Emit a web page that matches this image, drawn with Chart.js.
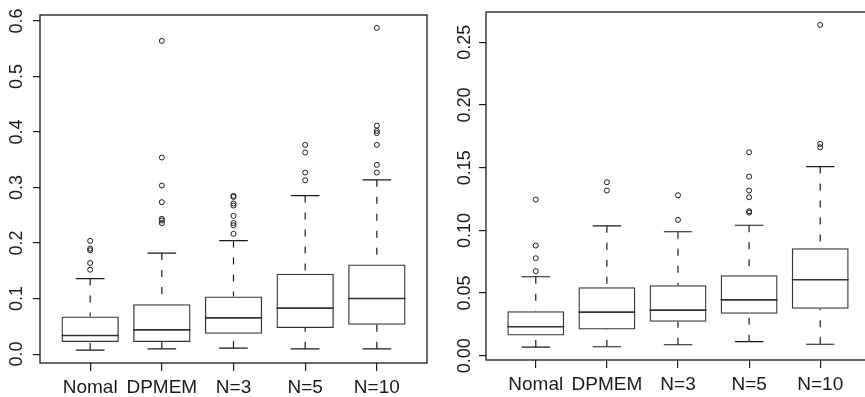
<!DOCTYPE html>
<html>
<head>
<meta charset="utf-8">
<script src="https://cdn.jsdelivr.net/npm/chart.js@4/dist/chart.umd.min.js"></script>
<style>
  html, body { margin: 0; padding: 0; background: #fff; overflow: hidden; }
  body { width: 865px; height: 397px; position: relative; }
  .panel { position: absolute; top: 0; height: 397px; }
  .left { left: 0; width: 432px; }
  .right { left: 432px; width: 443px; }
</style>
</head>
<body>
<div class="panel left"><canvas id="leftChart"></canvas></div>
<div class="panel right"><canvas id="rightChart"></canvas></div>
<script>
const categories = ["Nomal", "DPMEM", "N=3", "N=5", "N=10"];
const positions = [1, 2, 3, 4, 5];

// left panel
const leftLow = [0.0072, 0.0095, 0.0108, 0.0095, 0.0095];
const leftQ1 = [0.0216, 0.0216, 0.0365, 0.0468, 0.0527];
const leftMedian = [0.0335, 0.0437, 0.0653, 0.0828, 0.1001];
const leftQ3 = [0.0677, 0.0900, 0.1037, 0.1446, 0.1613];
const leftHigh = [0.136, 0.182, 0.2045, 0.2855, 0.3138];
const leftOutliers = [
  [0.204, 0.190, 0.187, 0.164, 0.152],
  [0.564, 0.354, 0.3035, 0.2736, 0.2436, 0.2405, 0.2358],
  [0.285, 0.283, 0.2713, 0.2675, 0.249, 0.236, 0.232, 0.2166],
  [0.3768, 0.363, 0.327, 0.313],
  [0.5874, 0.4115, 0.402, 0.398, 0.3768, 0.3408, 0.327]
];
const leftTicks = [0, 0.1, 0.2, 0.3, 0.4, 0.5, 0.6];

// right panel
const rightLow = [0.0069, 0.0072, 0.0088, 0.0112, 0.0092];
const rightQ1 = [0.0162, 0.0210, 0.0271, 0.0335, 0.0375];
const rightMedian = [0.0231, 0.0348, 0.0364, 0.0446, 0.0606];
const rightQ3 = [0.0356, 0.0547, 0.0563, 0.0643, 0.0858];
const rightHigh = [0.063, 0.1036, 0.0989, 0.1041, 0.1509];
const rightOutliers = [
  [0.1246, 0.0879, 0.0778, 0.0675],
  [0.1384, 0.1318],
  [0.128, 0.1084],
  [0.1623, 0.1429, 0.1318, 0.1264, 0.1153, 0.1142],
  [0.2639, 0.169, 0.1663]
];
const rightTicks = [0, 0.05, 0.10, 0.15, 0.20, 0.25];

const ink = "#1a1a1a";
const boxWidth = 0.8;

Chart.defaults.font.family = "'Liberation Sans', Arial, sans-serif";
Chart.defaults.color = ink;

// frame + rotated y labels, R style
const framePlugin = {
  id: "frame",
  afterDraw(chart, args, opts) {
    const ctx = chart.ctx;
    const a = chart.chartArea;
    const y = chart.scales.y;
    ctx.save();
    ctx.strokeStyle = ink;
    ctx.lineWidth = 1.3;
    ctx.strokeRect(a.left, a.top, a.right - a.left, a.bottom - a.top);
    ctx.fillStyle = ink;
    ctx.font = "18px 'Liberation Sans', Arial, sans-serif";
    ctx.textAlign = "center";
    ctx.textBaseline = "middle";
    opts.ticks.forEach(t => {
      ctx.save();
      ctx.translate(opts.labelX, y.getPixelForValue(t));
      ctx.rotate(-Math.PI / 2);
      ctx.fillText(t.toFixed(opts.digits), 0, 0);
      ctx.restore();
    });
    ctx.restore();
  }
};

function segments(pairs) {
  // pairs of points, broken by nulls
  const out = [];
  pairs.forEach(p => {
    out.push(p[0], p[1], { x: p[0].x, y: null });
  });
  return out;
}

function drawBoxplot(canvas, low, q1, med, q3, high, outliers, ticks, cfg) {
  const all = low.concat(high, ...outliers);
  const dmin = Math.min(...all);
  const dmax = Math.max(...all);
  const pad = (dmax - dmin) * 0.04;

  const whiskers = segments(positions.flatMap((x, i) => [
    [{ x: x, y: low[i] }, { x: x, y: q1[i] }],
    [{ x: x, y: high[i] }, { x: x, y: q3[i] }]
  ]));
  const caps = segments(positions.flatMap((x, i) => [
    [{ x: x - boxWidth / 4, y: low[i] }, { x: x + boxWidth / 4, y: low[i] }],
    [{ x: x - boxWidth / 4, y: high[i] }, { x: x + boxWidth / 4, y: high[i] }]
  ]));
  const medians = segments(positions.map((x, i) =>
    [{ x: x - boxWidth / 2, y: med[i] }, { x: x + boxWidth / 2, y: med[i] }]
  ));
  const points = positions.flatMap((x, i) => outliers[i].map(v => ({ x: x, y: v })));

  new Chart(canvas, {
    type: "bar",
    data: {
      datasets: [
        {
          type: "line",
          data: medians,
          borderColor: "#333",
          borderWidth: 1.6,
          pointRadius: 0,
          spanGaps: false
        },
        {
          type: "line",
          data: caps,
          borderColor: ink,
          borderWidth: 1.2,
          pointRadius: 0,
          spanGaps: false
        },
        {
          type: "line",
          data: whiskers,
          borderColor: ink,
          borderWidth: 1.2,
          borderDash: [7, 10],
          pointRadius: 0,
          spanGaps: false
        },
        {
          type: "scatter",
          data: points,
          pointStyle: "circle",
          pointRadius: 2.5,
          backgroundColor: "rgba(0,0,0,0)",
          borderColor: ink,
          borderWidth: 1
        },
        {
          type: "bar",
          data: positions.map((x, i) => ({ x: x, y: [q1[i], q3[i]] })),
          backgroundColor: "rgba(0,0,0,0)",
          borderColor: "#333",
          borderWidth: 1.3,
          borderSkipped: false,
          barPercentage: boxWidth,
          categoryPercentage: 1
        }
      ]
    },
    options: {
      responsive: true,
      maintainAspectRatio: false,
      animation: false,
      layout: { padding: cfg.padding },
      plugins: {
        legend: { display: false },
        tooltip: { enabled: false },
        frame: { ticks: ticks, labelX: cfg.labelX, digits: cfg.digits }
      },
      scales: {
        x: {
          type: "linear",
          min: 0.3,
          max: 5.7,
          offset: false,
          border: { display: false },
          grid: { offset: false, drawOnChartArea: false, drawTicks: true, tickLength: 8, color: ink, lineWidth: 1.2 },
          ticks: {
            autoSkip: false,
            maxRotation: 0,
            padding: 5,
            color: ink,
            font: { size: 19 },
            callback: v => categories[v - 1]
          },
          afterBuildTicks: s => { s.ticks = positions.map(v => ({ value: v })); },
          afterFit: s => { s.height = cfg.xHeight; }
        },
        y: {
          type: "linear",
          min: dmin - pad,
          max: dmax + pad,
          border: { display: false },
          grid: { drawOnChartArea: false, drawTicks: true, tickLength: 7, color: ink, lineWidth: 1.2 },
          ticks: { display: false },
          afterBuildTicks: s => { s.ticks = ticks.map(v => ({ value: v })); },
          afterFit: s => { s.width = cfg.yWidth; }
        }
      }
    },
    plugins: [framePlugin]
  });
}

drawBoxplot(document.getElementById("leftChart"), leftLow, leftQ1, leftMedian, leftQ3, leftHigh, leftOutliers, leftTicks,
  { padding: { top: 15, right: 3, left: 0, bottom: 0 }, xHeight: 34, yWidth: 40, labelX: 17.5, digits: 1 });

drawBoxplot(document.getElementById("rightChart"), rightLow, rightQ1, rightMedian, rightQ3, rightHigh, rightOutliers, rightTicks,
  { padding: { top: 12, right: 0, left: 0, bottom: 0 }, xHeight: 37, yWidth: 54, labelX: 33, digits: 2 });
</script>
</body>
</html>
